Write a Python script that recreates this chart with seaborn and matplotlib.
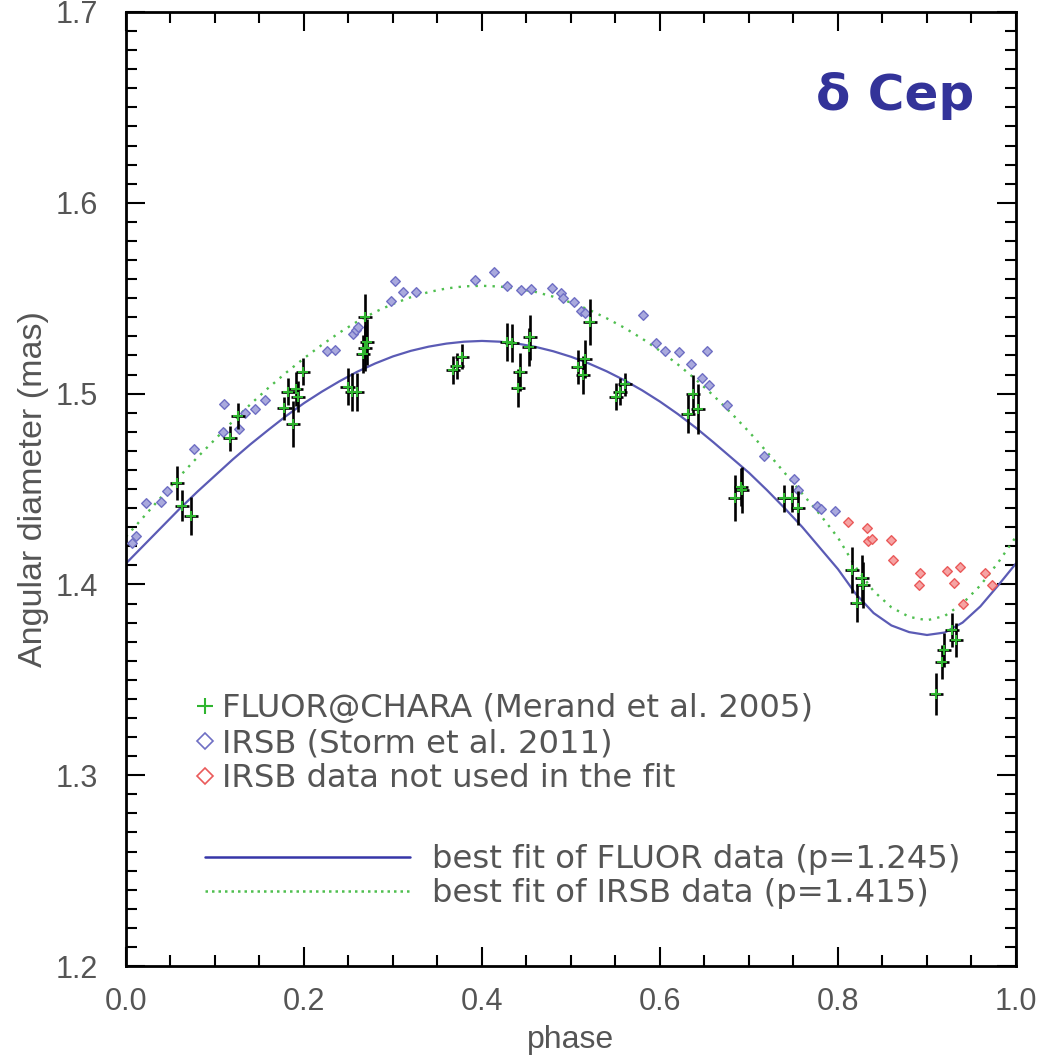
import numpy as np
import pandas as pd
import matplotlib
matplotlib.use("Agg")
import matplotlib.pyplot as plt
import seaborn as sns
from matplotlib.ticker import MultipleLocator, FormatStrFormatter
from matplotlib.lines import Line2D

# ---------------- data ----------------
# best fit of FLUOR data (p=1.245)
fluor_fit_phase = [0.00, 0.02, 0.04, 0.06, 0.08, 0.10, 0.12, 0.14, 0.16, 0.18, 0.20,
                   0.22, 0.24, 0.26, 0.28, 0.30, 0.32, 0.34, 0.36, 0.38, 0.40,
                   0.42, 0.44, 0.46, 0.48, 0.50, 0.52, 0.54, 0.56, 0.58, 0.60,
                   0.62, 0.64, 0.66, 0.68, 0.70, 0.72, 0.74, 0.76, 0.78, 0.80,
                   0.82, 0.84, 0.86, 0.88, 0.90, 0.92, 0.94, 0.96, 0.98, 1.00]
fluor_fit_diam = [1.411, 1.4205, 1.430, 1.4395, 1.4485, 1.457, 1.4655, 1.4735, 1.481, 1.4883, 1.4950,
                  1.5010, 1.5065, 1.5115, 1.5158, 1.5195, 1.5224, 1.5246, 1.5262, 1.5272, 1.5276,
                  1.5272, 1.5262, 1.5245, 1.5222, 1.5193, 1.5158, 1.5117, 1.5070, 1.5017, 1.4958,
                  1.4893, 1.4822, 1.4745, 1.4665, 1.4585, 1.4495, 1.4400, 1.4300, 1.4190, 1.4080,
                  1.3950, 1.3850, 1.3785, 1.3750, 1.3735, 1.3748, 1.3800, 1.3885, 1.3995, 1.411]

# best fit of IRSB data (p=1.415)
irsb_fit_phase = [0.00, 0.02, 0.04, 0.06, 0.08, 0.10, 0.12, 0.14, 0.16, 0.18, 0.20,
                  0.22, 0.24, 0.26, 0.28, 0.30, 0.32, 0.34, 0.36, 0.38, 0.40,
                  0.42, 0.44, 0.46, 0.48, 0.50, 0.52, 0.54, 0.56, 0.58, 0.60,
                  0.62, 0.64, 0.66, 0.68, 0.70, 0.72, 0.74, 0.76, 0.78, 0.80,
                  0.82, 0.84, 0.86, 0.88, 0.90, 0.92, 0.94, 0.96, 0.98, 1.00]
irsb_fit_diam = [1.425, 1.4355, 1.446, 1.4565, 1.4665, 1.476, 1.4855, 1.4945, 1.503, 1.511, 1.5185,
                 1.5255, 1.532, 1.5378, 1.5428, 1.5470, 1.5505, 1.5532, 1.5551, 1.5562, 1.5565,
                 1.5561, 1.5550, 1.5533, 1.5508, 1.5477, 1.5440, 1.5395, 1.5345, 1.5288, 1.5224,
                 1.5153, 1.5075, 1.4990, 1.4898, 1.4800, 1.4695, 1.4585, 1.4475, 1.4365, 1.4245,
                 1.4090, 1.3965, 1.3880, 1.3830, 1.3812, 1.3835, 1.3900, 1.3995, 1.4115, 1.425]

# FLUOR@CHARA (Merand et al. 2005)
fluor_phase = [0.057, 0.0626, 0.073, 0.117, 0.1255, 0.178, 0.1817, 0.1873, 0.1906, 0.1936,
               0.1985, 0.249, 0.2543, 0.2592, 0.266, 0.2685, 0.2704, 0.2685, 0.3678, 0.3715,
               0.3772, 0.4277, 0.4333, 0.4408, 0.4427, 0.4532, 0.4539, 0.5082, 0.5138, 0.5157,
               0.5213, 0.5506, 0.555, 0.5607, 0.6311, 0.6367, 0.6423, 0.6843, 0.6906, 0.6918,
               0.7397, 0.748, 0.7547, 0.8154, 0.821, 0.8266, 0.8285, 0.9101, 0.9165, 0.919,
               0.9277, 0.9322]
fluor_diam = [1.453, 1.4413, 1.436, 1.4766, 1.4883, 1.4923, 1.501, 1.484, 1.5023, 1.4984,
              1.5115, 1.5036, 1.501, 1.501, 1.5206, 1.5403, 1.5272, 1.5237, 1.5124, 1.5145,
              1.5193, 1.5269, 1.5264, 1.5028, 1.5115, 1.5243, 1.5294, 1.5141, 1.5097, 1.5181,
              1.5377, 1.4984, 1.501, 1.505, 1.4893, 1.4996, 1.4919, 1.4451, 1.4512, 1.4495,
              1.4451, 1.4451, 1.4399, 1.4076, 1.3904, 1.4035, 1.3997, 1.3424, 1.3592, 1.3656,
              1.3761, 1.3709]
fluor_err = [0.009, 0.008, 0.010, 0.0066, 0.0066, 0.006, 0.007, 0.012, 0.009, 0.008,
             0.007, 0.0096, 0.010, 0.010, 0.010, 0.012, 0.012, 0.012, 0.0074, 0.007,
             0.0066, 0.010, 0.010, 0.010, 0.010, 0.010, 0.012, 0.009, 0.010, 0.010,
             0.012, 0.007, 0.007, 0.006, 0.010, 0.010, 0.013, 0.012, 0.010, 0.012,
             0.007, 0.007, 0.009, 0.012, 0.010, 0.012, 0.012, 0.011, 0.009, 0.009,
             0.009, 0.009]
fluor_phase_err = 0.008

# IRSB (Storm et al. 2011)
irsb_phase = [0.0064, 0.0112, 0.0225, 0.039, 0.0457, 0.0764, 0.1094, 0.1105, 0.1273, 0.1337,
              0.145, 0.1562, 0.2262, 0.2348, 0.2547, 0.258, 0.261, 0.2974, 0.3022, 0.3116,
              0.3262, 0.392, 0.414, 0.4277, 0.4434, 0.4547, 0.4782, 0.4892, 0.4906, 0.5036,
              0.511, 0.5163, 0.5813, 0.5959, 0.6056, 0.6213, 0.6345, 0.6468, 0.6524, 0.6554,
              0.6749, 0.7169, 0.7508, 0.7554, 0.776, 0.7812, 0.7962]
irsb_diam = [1.4215, 1.4254, 1.4428, 1.4433, 1.449, 1.471, 1.48, 1.4944, 1.4813, 1.4897,
             1.4919, 1.4966, 1.5223, 1.5228, 1.5312, 1.5335, 1.535, 1.5487, 1.5592, 1.5534,
             1.553, 1.5597, 1.5635, 1.5564, 1.5543, 1.5547, 1.5553, 1.5526, 1.5499, 1.548,
             1.5434, 1.5421, 1.5414, 1.5266, 1.5224, 1.5218, 1.5154, 1.5083, 1.5223, 1.5047,
             1.4938, 1.4674, 1.4553, 1.4497, 1.441, 1.4395, 1.4385]

# IRSB data not used in the fit
unused_phase = [0.8109, 0.8322, 0.834, 0.8386, 0.8592, 0.8614, 0.8921, 0.8911, 0.9221, 0.9371,
                0.9307, 0.9408, 0.9652, 0.9727]
unused_diam = [1.4329, 1.4294, 1.4229, 1.4238, 1.4233, 1.4128, 1.4058, 1.3997, 1.407, 1.409,
               1.4006, 1.3897, 1.4058, 1.3997]

x_ticks = [0.0, 0.2, 0.4, 0.6, 0.8, 1.0]
y_ticks = [1.2, 1.3, 1.4, 1.5, 1.6, 1.7]

# ---------------- styling ----------------
sns.set_theme(style="ticks")
plt.rcParams["font.family"] = ["Liberation Sans", "DejaVu Sans"]

BLUE_FIT = "#5b5bb5"
GREEN_FIT = "#4fbf4f"
TXT = "#555555"
LEG_FONT = {"family": ["DejaVu Sans"], "size": 23.2}

fig = plt.figure(figsize=(10.43, 10.58), dpi=100)
ax = fig.add_axes([0.1208, 0.0869, 0.8533, 0.9018])

fit_f = pd.DataFrame({"phase": fluor_fit_phase, "diam": fluor_fit_diam})
fit_i = pd.DataFrame({"phase": irsb_fit_phase, "diam": irsb_fit_diam})
sns.lineplot(data=fit_f, x="phase", y="diam", ax=ax, color=BLUE_FIT, lw=1.6,
             sort=False, estimator=None, zorder=2)
sns.lineplot(data=fit_i, x="phase", y="diam", ax=ax, color=GREEN_FIT, lw=1.7,
             sort=False, estimator=None, linestyle=(0, (1, 2.6)), zorder=2)

sns.scatterplot(x=irsb_phase, y=irsb_diam, ax=ax, marker="D", s=24,
                facecolor="#a9a9dd", edgecolor="#6f6fc4", linewidth=1.0, zorder=3)
sns.scatterplot(x=unused_phase, y=unused_diam, ax=ax, marker="D", s=24,
                facecolor="#f6a3a3", edgecolor="#ea5a5a", linewidth=1.0, zorder=3)

ax.errorbar(fluor_phase, fluor_diam, xerr=fluor_phase_err, yerr=fluor_err, fmt="none",
            ecolor="black", elinewidth=1.9, capsize=0, zorder=4)
sns.scatterplot(x=fluor_phase, y=fluor_diam, ax=ax, marker="+", s=50,
                color="#2fb52f", linewidth=1.5, zorder=5)

ax.set_xlim(0, 1)
ax.set_ylim(1.2, 1.7)
ax.set_xticks(x_ticks)
ax.set_yticks(y_ticks)
ax.xaxis.set_minor_locator(MultipleLocator(0.05))
ax.yaxis.set_minor_locator(MultipleLocator(0.01))
ax.xaxis.set_major_formatter(FormatStrFormatter("%.1f"))
ax.yaxis.set_major_formatter(FormatStrFormatter("%.1f"))
ax.tick_params(which="both", direction="in", top=True, right=True, color="black",
               width=1.5, labelcolor=TXT, labelsize=22)
ax.tick_params(which="major", length=14)
ax.tick_params(which="minor", length=8)
ax.tick_params(axis="y", pad=20)
ax.tick_params(axis="x", pad=15)
for s in ax.spines.values():
    s.set_linewidth(2.0)
    s.set_color("black")

ax.set_xlabel("phase", fontsize=23, color=TXT)
ax.set_ylabel("Angular diameter (mas)", fontsize=24.5, color=TXT)
ax.xaxis.set_label_coords(0.5, -0.062)
ax.yaxis.set_label_coords(-0.087, 0.5)

ax.text(0.864, 0.897, "\u03b4 Cep", transform=ax.transAxes, ha="center", va="baseline",
        fontsize=36, fontweight="bold", color="#333399", family=["DejaVu Sans"])

h1 = [Line2D([], [], ls="none", marker="+", ms=11, mew=1.5, color="#2fb52f"),
      Line2D([], [], ls="none", marker="D", ms=8, mew=1.2, mfc="none", mec="#6f6fc4"),
      Line2D([], [], ls="none", marker="D", ms=8, mew=1.2, mfc="none", mec="#ea5a5a")]
leg1 = ax.legend(h1, ["FLUOR@CHARA (Merand et al. 2005)", "IRSB (Storm et al. 2011)",
                      "IRSB data not used in the fit"],
                 loc="upper left", bbox_to_anchor=(0.0760, 0.2857), frameon=False,
                 prop=LEG_FONT, handlelength=0.7, handletextpad=0.17, labelspacing=0.12,
                 borderpad=0, borderaxespad=0)
for t in leg1.get_texts():
    t.set_color(TXT)
ax.add_artist(leg1)

h2 = [Line2D([], [], color="#3636a8", lw=1.8),
      Line2D([], [], color=GREEN_FIT, lw=1.8, ls=(0, (1, 1.6)))]
leg2 = ax.legend(h2, ["best fit of FLUOR data (p=1.245)", "best fit of IRSB data (p=1.415)"],
                 loc="upper left", bbox_to_anchor=(0.089, 0.1277), frameon=False,
                 prop=LEG_FONT, handlelength=6.35, handletextpad=0.68, labelspacing=0.1,
                 borderpad=0, borderaxespad=0)
for t in leg2.get_texts():
    t.set_color(TXT)

fig.savefig("out.png", dpi=100)
